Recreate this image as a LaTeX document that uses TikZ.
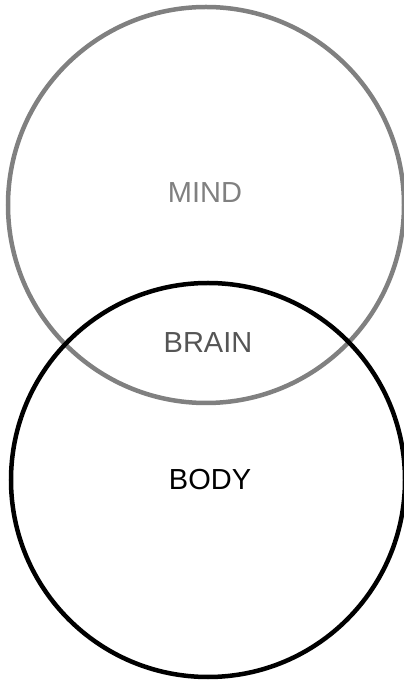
\documentclass[tikz,border=0pt]{standalone}
\usepackage{fontspec}
\setmainfont{Liberation Sans}
\definecolor{mindgray}{HTML}{808080}
\definecolor{braingray}{HTML}{555555}

\begin{document}
\begin{tikzpicture}[x=1pt, y=1pt,
    ring/.style={line width=4.5pt},
    word/.style={font=\fontsize{29}{34}\selectfont}]
  \useasboundingbox (0,0) rectangle (404,680);
  \draw[ring, draw=mindgray] (206,475) circle (198pt);
  \draw[ring] (208,200) circle (197pt);
  \node[word, text=mindgray] (mind) at (205,487) {MIND};
  \node[word, text=braingray] (brain) at (208,337) {BRAIN};
  \node[word] (body) at (210,200) {BODY};
\end{tikzpicture}
\end{document}
